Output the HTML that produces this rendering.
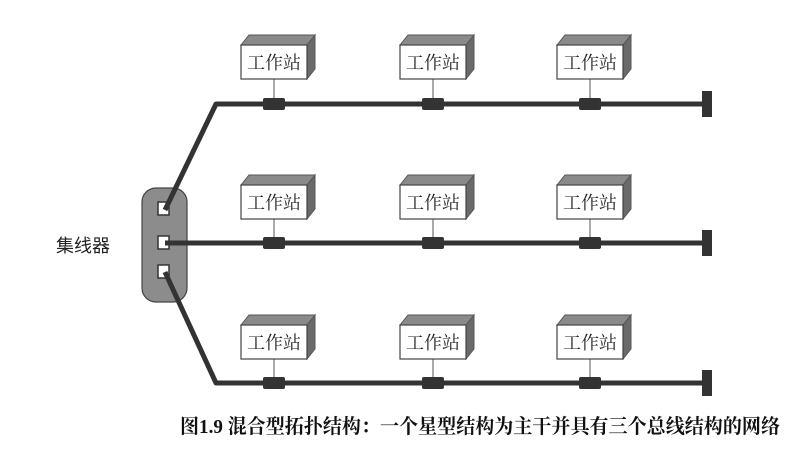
<!DOCTYPE html>
<html><head><meta charset="utf-8"><style>
body{margin:0;background:#fff;width:797px;height:446px;overflow:hidden}
</style></head><body>
<svg width="797" height="446" viewBox="0 0 797 446" xmlns="http://www.w3.org/2000/svg" font-family="'Liberation Serif','Noto Serif CJK SC',serif">
<defs>
<g id="ws">
  <polygon points="0,0 8,-10 74,-10 66,0" fill="#8a8a8a" stroke="#555" stroke-width="1"/>
  <polygon points="66,0 74,-10 74,24 66,34" fill="#6a6a6a" stroke="#555" stroke-width="1"/>
  <rect x="0" y="0" width="66" height="34" fill="#fff" stroke="#444" stroke-width="1.2"/>
  <text x="33" y="24" font-size="18" text-anchor="middle" fill="#222">工作站</text>
</g>
</defs>
<rect x="142" y="188" width="45" height="114" rx="14" fill="#8c8c8c" stroke="#444" stroke-width="1.2"/>
<g fill="#fff" stroke="#333" stroke-width="1.5">
  <rect x="158" y="202" width="11" height="13"/><rect x="158" y="236" width="11" height="13"/><rect x="158" y="265" width="11" height="13"/>
</g>
<g stroke="#333" stroke-width="5" fill="none" stroke-linejoin="round">
  <polyline points="165,210 216,104 706,104"/>
  <polyline points="165,243 706,243"/>
  <polyline points="165,272 216,383 706,383"/>
</g>
<g stroke="#555" stroke-width="1">
  <line x1="274" y1="79" x2="274" y2="104"/><line x1="433" y1="79" x2="433" y2="104"/><line x1="590" y1="79" x2="590" y2="104"/>
  <line x1="274" y1="219" x2="274" y2="243"/><line x1="433" y1="219" x2="433" y2="243"/><line x1="590" y1="219" x2="590" y2="243"/>
  <line x1="274" y1="359" x2="274" y2="383"/><line x1="433" y1="359" x2="433" y2="383"/><line x1="590" y1="359" x2="590" y2="383"/>
</g>
<g fill="#333">
  <rect x="263" y="98" width="22" height="12" rx="2"/><rect x="422" y="98" width="22" height="12" rx="2"/><rect x="579" y="98" width="22" height="12" rx="2"/>
  <rect x="263" y="237" width="22" height="12" rx="2"/><rect x="422" y="237" width="22" height="12" rx="2"/><rect x="579" y="237" width="22" height="12" rx="2"/>
  <rect x="263" y="377" width="22" height="12" rx="2"/><rect x="422" y="377" width="22" height="12" rx="2"/><rect x="579" y="377" width="22" height="12" rx="2"/>
  <rect x="702" y="91" width="10" height="26"/><rect x="702" y="230" width="10" height="26"/><rect x="702" y="370" width="10" height="26"/>
</g>
<use href="#ws" x="241" y="45"/><use href="#ws" x="400" y="45"/><use href="#ws" x="557" y="45"/>
<use href="#ws" x="241" y="185"/><use href="#ws" x="400" y="185"/><use href="#ws" x="557" y="185"/>
<use href="#ws" x="241" y="325"/><use href="#ws" x="400" y="325"/><use href="#ws" x="557" y="325"/>
<text x="56" y="252" font-size="18" fill="#222" font-family="'Liberation Sans','Noto Sans CJK SC',sans-serif">集线器</text>
<text x="180" y="433" font-size="20" font-weight="bold" fill="#111" textLength="600" lengthAdjust="spacingAndGlyphs">图1.9  混合型拓扑结构：一个星型结构为主干并具有三个总线结构的网络</text>
</svg>
</body></html>
